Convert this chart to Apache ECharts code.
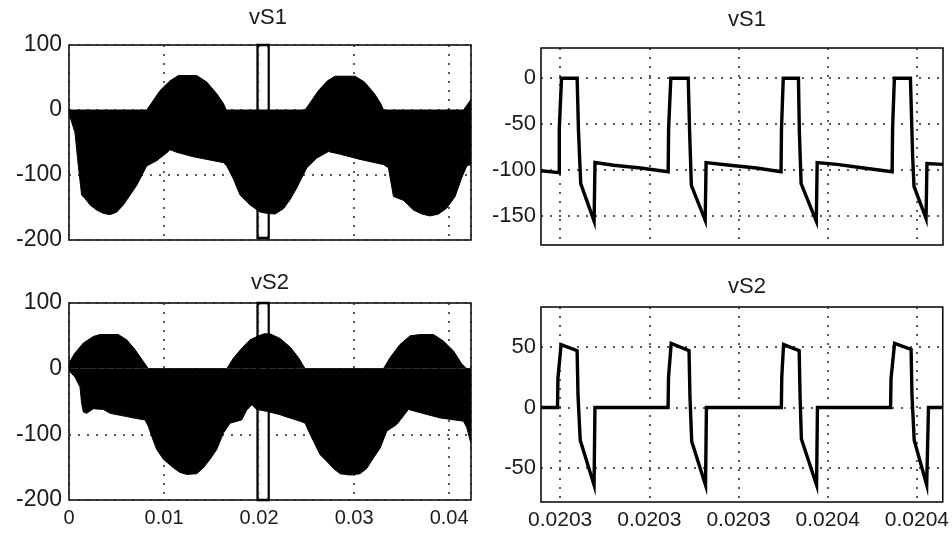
<!DOCTYPE html>
<html><head><meta charset="utf-8">
<script src="https://cdn.jsdelivr.net/npm/echarts@6/dist/echarts.min.js"></script>
<style>html,body{margin:0;padding:0;background:#fff}#c{width:952px;height:533px}</style>
</head><body><div id="c"></div>
<script>
// ---- full-range waveforms (time in s): envelopes of the PWM band ----
const vs1FullUpper = [[0,0],[0.00818,0],[0.00888,15],[0.00958,30],[0.01063,45],[0.01151,53],[0.01344,53],[0.0145,43],[0.01555,25],[0.01625,10],[0.01655,0],[0.02484,0],[0.02555,15],[0.02625,30],[0.0272,45],[0.028,52],[0.0301,52],[0.0311,43],[0.03215,25],[0.0328,10],[0.0331,0],[0.04151,0],[0.0419,8],[0.04228,16]];
const vs1FullLower = [[0,0],[0.0001,-10],[0.00063,-35],[0.00098,-86],[0.00133,-131],[0.00168,-136],[0.00221,-146],[0.00291,-154],[0.00361,-159],[0.00432,-161],[0.00502,-157],[0.00572,-146],[0.00642,-131],[0.00712,-116],[0.00765,-101],[0.00818,-86],[0.00923,-78],[0.01028,-66],[0.01063,-61],[0.01133,-65],[0.01309,-72],[0.0145,-76],[0.01625,-81],[0.0166,-86],[0.0173,-106],[0.018,-131],[0.01905,-146],[0.02011,-157],[0.02081,-159],[0.02168,-160],[0.02256,-152],[0.02326,-138],[0.02396,-120],[0.02502,-89],[0.02607,-74],[0.0273,-64],[0.02853,-68],[0.03063,-76],[0.03309,-84],[0.03361,-89],[0.03414,-133],[0.03519,-139],[0.03625,-154],[0.03712,-160],[0.038,-163],[0.03888,-160],[0.03975,-151],[0.04063,-133],[0.04133,-104],[0.04186,-86],[0.04228,-84]];
const vs2FullUpper = [[0,9],[0.00063,24],[0.00151,39],[0.00256,49],[0.00326,52],[0.00519,52],[0.00607,44],[0.00695,29],[0.00782,11],[0.00835,0],[0.0166,0],[0.0173,16],[0.01817,31],[0.01905,44],[0.02011,51],[0.0205,53],[0.02116,53],[0.02221,46],[0.02326,33],[0.02414,17],[0.02484,0],[0.03309,0],[0.03379,17],[0.03484,37],[0.03589,50],[0.03695,52],[0.03835,52],[0.0394,42],[0.04046,27],[0.04133,7],[0.04186,0],[0.04228,0]];
const vs2FullLower = [[0,-3],[0.00063,-13],[0.00116,-28],[0.00133,-53],[0.00151,-66],[0.00186,-68],[0.00256,-61],[0.00361,-62],[0.00432,-68],[0.00607,-73],[0.00712,-76],[0.008,-78],[0.00835,-88],[0.0087,-103],[0.00923,-123],[0.00993,-138],[0.01098,-151],[0.01168,-158],[0.01239,-161],[0.01344,-160],[0.01414,-151],[0.01484,-138],[0.01555,-123],[0.01625,-98],[0.01695,-83],[0.01818,-78],[0.0187,-63],[0.01923,-55],[0.01975,-62],[0.0208,-65],[0.0222,-70],[0.02256,-72],[0.02432,-80],[0.02484,-83],[0.02537,-100],[0.02642,-131],[0.02712,-141],[0.02782,-152],[0.02853,-160],[0.02958,-162],[0.03063,-160],[0.03133,-152],[0.03204,-136],[0.03274,-121],[0.03344,-95],[0.03449,-85],[0.03519,-72],[0.03572,-62],[0.03695,-67],[0.03905,-75],[0.04151,-80],[0.04186,-90],[0.04228,-113]];
// highlighted window on the full-range plots [t1, t2]
const zoomWindow = [0.01985, 0.02100];

// ---- zoomed waveforms: time offset in microseconds from zoomT0 ----
const zoomT0 = 0.0203;
const vs1ZoomUs = [[-4.3,-101],[-0.2,-103],[-0.2,-55],[0.3,0],[3.8,0],[4.1,-57],[4.6,-115],[7.6,-156],[7.8,-92],[12,-95],[18,-98],[24.2,-102],[24.3,-55],[24.8,0],[28.7,0],[29.0,-57],[29.4,-117],[32.5,-155],[32.7,-92],[38,-95],[44,-98],[49.5,-102],[49.6,-55],[50.0,0],[53.4,0],[53.6,-57],[54.0,-115],[57.4,-156],[57.6,-92],[62,-94],[68,-98],[74.4,-102],[74.5,-55],[74.9,0],[78.5,0],[79.0,-86],[79.3,-118],[82.0,-153],[82.2,-93],[85.8,-94]];
const vs2ZoomUs = [[-4.3,0],[-0.6,0],[-0.5,24],[0.2,52],[0.5,53],[3.8,47],[4.0,10],[4.5,-27],[7.6,-64],[7.8,0],[24.2,0],[24.3,25],[24.9,53],[28.9,47],[29.1,10],[29.5,-28],[32.6,-64],[32.8,0],[49.6,0],[49.7,25],[50.1,52],[53.6,47],[53.8,10],[54.1,-26],[57.5,-64],[57.7,0],[74.1,0],[74.2,24],[75.0,53],[78.7,48],[78.9,10],[79.4,-27],[82.2,-64],[82.6,0],[85.8,0]];

// ---- axes / ticks ----
const fullXTicks = [0, 0.01, 0.02, 0.03, 0.04];
const fullXRange = [0, 0.0423];
const fullYRange = [-200, 100];
const zoomXTicks = [0.0203, 0.02032, 0.02034, 0.02036, 0.02038];
const zoomXRangeUs = [-4.3, 85.8];
const vs1ZoomYTicks = [-150, -100, -50, 0];
const vs1ZoomYRange = [-182, 33];
const vs2ZoomYTicks = [-50, 0, 50];
const vs2ZoomYRange = [-78, 83];
const titles = ['vS1', 'vS1', 'vS2', 'vS2'];

const FONT = 'Liberation Sans';
const TXT = '#1a1a1a';
const toSec = arr => arr.map(([u, v]) => [zoomT0 + u * 1e-6, v]);
const gridStyle = {show: true, lineStyle: {color: '#222', type: [2, 7], width: 1.5}};

const grids = [
  {left: 69, top: 45, width: 402, height: 195},
  {left: 541, top: 48, width: 402, height: 197},
  {left: 69, top: 303, width: 402, height: 197},
  {left: 541, top: 307, width: 402, height: 195}
].map(g => Object.assign({show: true, borderColor: '#000', borderWidth: 1.5, backgroundColor: '#fff'}, g));

function fullX(i, showLabels) {
  return {type: 'value', gridIndex: i, min: fullXRange[0], max: fullXRange[1], interval: 0.01,
    axisLine: {show: false}, axisTick: {show: false}, splitLine: gridStyle,
    axisLabel: {show: showLabels, showMaxLabel: false, color: TXT, fontFamily: FONT, fontSize: 20, margin: 8,
      formatter: v => fullXTicks.indexOf(+v.toFixed(4)) >= 0 ? String(+v.toFixed(4)) : ''}};
}
function zoomX(i, showLabels) {
  return {type: 'value', gridIndex: i, min: zoomT0 + zoomXRangeUs[0] * 1e-6, max: zoomT0 + zoomXRangeUs[1] * 1e-6,
    axisLine: {show: false}, axisTick: {show: false, customValues: zoomXTicks}, splitLine: gridStyle,
    axisLabel: {show: showLabels, customValues: zoomXTicks, color: TXT, fontFamily: FONT, fontSize: 21, margin: 8,
      formatter: v => (+v).toPrecision(3)}};
}
function fullY(i) {
  return {type: 'value', gridIndex: i, min: fullYRange[0], max: fullYRange[1], interval: 100,
    axisLine: {show: false}, axisTick: {show: false}, splitLine: gridStyle,
    axisLabel: {color: TXT, fontFamily: FONT, fontSize: 23, margin: 7}};
}
function zoomY(i, ticks, range) {
  return {type: 'value', gridIndex: i, min: range[0], max: range[1],
    axisLine: {show: false}, axisTick: {show: false, customValues: ticks}, splitLine: gridStyle,
    axisLabel: {customValues: ticks, color: TXT, fontFamily: FONT, fontSize: 22, margin: 5}};
}
function band(i, data) {
  return {type: 'line', xAxisIndex: i, yAxisIndex: i, data: data, showSymbol: false, symbol: 'none',
    animation: false, lineStyle: {color: '#000', width: 1}, areaStyle: {color: '#000', opacity: 1, origin: 'auto'}};
}
function windowRect(i, yr) {
  return {type: 'line', xAxisIndex: i, yAxisIndex: i, data: [], z: 5, animation: false,
    markArea: {silent: true, data: [
      [{coord: [zoomWindow[0], yr[0]], itemStyle: {color: 'rgba(0,0,0,0)', borderColor: '#000', borderWidth: 2.5}},
       {coord: [zoomWindow[1], yr[1]]}]
    ]}};
}
function windowInner(i, yr) {
  return {type: 'line', xAxisIndex: i, yAxisIndex: i, data: [], z: 6, animation: false,
    markArea: {silent: true, data: [
      [{coord: [zoomWindow[0] + 0.00017, yr[0] + 4], itemStyle: {color: 'rgba(0,0,0,0)', borderColor: '#fff', borderWidth: 1}},
       {coord: [zoomWindow[1] - 0.00017, yr[1] - 4]}]
    ]}};
}
function trace(i, data) {
  return {type: 'line', xAxisIndex: i, yAxisIndex: i, data: data, showSymbol: false, symbol: 'none',
    animation: false, lineStyle: {color: '#000', width: 3.4, join: 'miter'}};
}

const titlePos = [[263, 2], [742, 4], [265, 267], [742, 271]];
const option = {
  backgroundColor: '#fff',
  animation: false,
  title: titles.map((t, i) => ({text: t, left: titlePos[i][0], top: titlePos[i][1], textAlign: 'center',
    textStyle: {color: TXT, fontFamily: FONT, fontSize: 22, fontWeight: 'normal'}})),
  grid: grids,
  xAxis: [fullX(0, false), zoomX(1, false), fullX(2, true), zoomX(3, true)],
  yAxis: [fullY(0), zoomY(1, vs1ZoomYTicks, vs1ZoomYRange), fullY(2), zoomY(3, vs2ZoomYTicks, vs2ZoomYRange)],
  series: [
    band(0, vs1FullUpper), band(0, vs1FullLower),
    windowRect(0, [-197, 100]), windowInner(0, [-197, 100]),
    trace(1, toSec(vs1ZoomUs)),
    band(2, vs2FullUpper), band(2, vs2FullLower),
    windowRect(2, [-200, 100]), windowInner(2, [-200, 100]),
    trace(3, toSec(vs2ZoomUs))
  ]
};
const chart = echarts.init(document.getElementById('c'), null, {renderer: 'canvas'});
chart.setOption(option);
</script></body></html>
